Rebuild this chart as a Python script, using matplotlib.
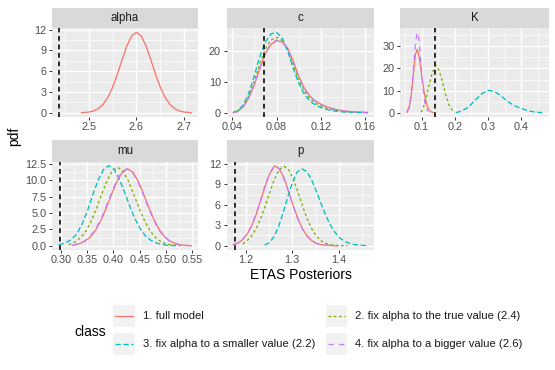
import matplotlib
matplotlib.use('Agg')
import matplotlib.pyplot as plt
from matplotlib.patches import Rectangle
from matplotlib.ticker import MultipleLocator, FormatStrFormatter

plt.rcParams['font.family'] = ['Liberation Sans', 'DejaVu Sans']

# ---------------- data ----------------
class_names = ["1. full model",
               "2. fix alpha to the true value (2.4)",
               "3. fix alpha to a smaller value (2.2)",
               "4. fix alpha to a bigger value (2.6)"]
panel_names = ["alpha", "c", "K", "mu", "p"]

# dashed reference lines
alpha_true = 2.437
c_true = 0.0685
K_true = 0.14
mu_true = 0.299
p_true = 1.176

# alpha (only full model)
alpha_x = [2.485, 2.49, 2.50, 2.51, 2.52, 2.53, 2.54, 2.55, 2.56, 2.57, 2.58, 2.59, 2.60,
           2.61, 2.62, 2.63, 2.64, 2.65, 2.66, 2.67, 2.68, 2.69, 2.70, 2.71, 2.715]
alpha_full = [0.03, 0.05, 0.12, 0.28, 0.61, 1.22, 2.22, 3.68, 5.56, 7.67, 9.66, 11.08, 11.6,
              11.08, 9.66, 7.67, 5.56, 3.68, 2.22, 1.22, 0.61, 0.28, 0.12, 0.05, 0.03]

# c
c_x = [0.041, 0.045, 0.05, 0.055, 0.06, 0.065, 0.07, 0.075, 0.08, 0.085, 0.09, 0.095,
       0.10, 0.105, 0.11, 0.115, 0.12, 0.125, 0.13, 0.135, 0.14, 0.15, 0.162]
c_full = [0.05, 0.4, 2.0, 4.8, 9.0, 14.4, 19.2, 22.2, 23.4, 23.0, 21.0, 16.8,
          11.8, 8.0, 5.4, 3.8, 2.8, 2.0, 1.4, 0.95, 0.62, 0.27, 0.08]
c_fixtrue = [0.08, 0.5, 2.2, 5.4, 10.3, 16.0, 20.8, 23.6, 24.5, 23.5, 20.4, 15.6,
             10.7, 7.0, 4.6, 3.1, 2.2, 1.5, 1.0, 0.65, 0.42, 0.17, 0.05]
c_small = [0.1, 0.7, 2.5, 6.3, 12.0, 18.3, 23.0, 25.6, 26.1, 24.3, 20.0, 14.5,
           9.6, 6.0, 3.8, 2.5, 1.7, 1.1, 0.7, 0.45, 0.28, 0.1, 0.03]
c_big = [0.05, 0.4, 1.9, 4.8, 9.1, 14.6, 19.4, 22.4, 23.6, 23.1, 20.9, 16.6,
         11.6, 7.8, 5.3, 3.7, 2.7, 1.95, 1.35, 0.9, 0.6, 0.26, 0.07]

# K
K_full_x = [0.056, 0.062, 0.067, 0.072, 0.077, 0.082, 0.087, 0.092, 0.097, 0.102, 0.107,
            0.112, 0.117, 0.122, 0.128, 0.135]
K_full_y = [0.3, 2.0, 5.8, 12.0, 20.0, 26.5, 28.5, 26.0, 21.0, 15.0, 10.0,
            5.8, 3.0, 1.4, 0.5, 0.1]
K_fixtrue_x = [0.098, 0.102, 0.112, 0.122, 0.132, 0.142, 0.152, 0.162, 0.172, 0.182, 0.192, 0.200]
K_fixtrue_y = [0.4, 1.0, 5.5, 12.0, 18.0, 21.3, 19.3, 14.5, 8.5, 3.8, 1.2, 0.3]
K_small_x = [0.203, 0.22, 0.24, 0.26, 0.28, 0.30, 0.32, 0.34, 0.36, 0.38, 0.40, 0.42, 0.44, 0.463]
K_small_y = [0.1, 0.8, 2.5, 5.5, 8.5, 10.2, 9.6, 7.5, 5.0, 3.2, 2.0, 1.0, 0.4, 0.1]
K_big_x = [0.0555, 0.0625, 0.0675, 0.0725, 0.0775, 0.0825, 0.0875, 0.0925, 0.0975,
           0.1025, 0.1075, 0.1125, 0.119]
K_big_y = [0.4, 2.7, 6.9, 14.3, 23.9, 32.7, 36.2, 32.7, 23.9, 14.3, 6.9, 2.7, 0.7]

# mu
mu_full_x = [0.322, 0.327, 0.337, 0.347, 0.357, 0.367, 0.377, 0.387, 0.397, 0.407, 0.417, 0.427,
             0.437, 0.447, 0.457, 0.467, 0.477, 0.487, 0.497, 0.507, 0.517, 0.527, 0.537, 0.548]
mu_full_y = [0.1, 0.16, 0.36, 0.75, 1.42, 2.49, 3.99, 5.89, 7.94, 9.85, 11.21, 11.7,
             11.21, 9.85, 7.94, 5.89, 3.99, 2.49, 1.42, 0.75, 0.36, 0.16, 0.064, 0.02]
mu_fixtrue_x = [0.315, 0.318, 0.328, 0.338, 0.348, 0.358, 0.368, 0.378, 0.388, 0.398, 0.408, 0.418,
                0.428, 0.438, 0.448, 0.458, 0.468, 0.478, 0.488, 0.498, 0.508, 0.518, 0.528]
mu_fixtrue_y = [0.2, 0.29, 0.63, 1.26, 2.29, 3.79, 5.73, 7.91, 9.94, 11.41, 11.95, 11.41,
                9.94, 7.95, 5.9, 4.0, 2.5, 1.4, 0.75, 0.36, 0.16, 0.07, 0.03]
mu_small_x = [0.296, 0.301, 0.311, 0.321, 0.331, 0.341, 0.351, 0.361, 0.371, 0.381, 0.391, 0.401,
              0.411, 0.421, 0.431, 0.441, 0.451, 0.461, 0.471, 0.481, 0.491, 0.501, 0.511, 0.521]
mu_small_y = [0.15, 0.25, 0.55, 1.0, 1.9, 3.4, 5.4, 7.8, 10.0, 11.6, 12.2, 11.65,
              10.2, 8.2, 6.05, 4.1, 2.6, 1.5, 0.85, 0.45, 0.22, 0.1, 0.05, 0.02]
mu_big_x = [0.322, 0.326, 0.336, 0.346, 0.356, 0.366, 0.376, 0.386, 0.396, 0.406, 0.416, 0.426,
            0.436, 0.446, 0.456, 0.466, 0.476, 0.486, 0.496, 0.506, 0.516, 0.526, 0.536, 0.547]
mu_big_y = [0.12, 0.17, 0.37, 0.77, 1.45, 2.53, 4.04, 5.95, 8.0, 9.9, 11.26, 11.75,
            11.24, 9.86, 7.93, 5.86, 3.96, 2.46, 1.4, 0.74, 0.35, 0.15, 0.06, 0.02]

# p
p_full_x = [1.173, 1.182, 1.192, 1.202, 1.212, 1.222, 1.232, 1.242, 1.252, 1.262, 1.272, 1.282,
            1.292, 1.302, 1.312, 1.322, 1.332, 1.342, 1.352, 1.362, 1.372, 1.382, 1.398]
p_full_y = [0.15, 0.35, 0.8, 1.6, 2.8, 4.5, 6.6, 8.8, 10.6, 11.7, 11.3, 9.95,
            8.0, 5.9, 3.98, 2.47, 1.41, 0.74, 0.35, 0.16, 0.07, 0.03, 0.01]
p_fixtrue_x = [1.194, 1.202, 1.212, 1.222, 1.232, 1.242, 1.252, 1.262, 1.272, 1.282, 1.292, 1.302,
               1.312, 1.322, 1.332, 1.342, 1.352, 1.362, 1.372, 1.382, 1.392, 1.402, 1.419]
p_fixtrue_y = [0.25, 0.7, 1.40, 2.46, 3.95, 5.83, 7.9, 9.8, 11.16, 11.65, 11.16, 9.8,
               7.9, 5.83, 3.95, 2.46, 1.40, 0.73, 0.35, 0.154, 0.062, 0.023, 0.005]
p_small_x = [1.2406, 1.2506, 1.2606, 1.2706, 1.2806, 1.2906, 1.3006, 1.3106, 1.3206, 1.3306,
             1.3406, 1.3506, 1.3606, 1.3706, 1.3806, 1.3906, 1.4006, 1.4106, 1.4206, 1.4306,
             1.4406, 1.4506, 1.462]
p_small_y = [0.1, 0.45, 1.3, 2.8, 4.9, 7.2, 9.3, 10.8, 11.25, 10.9, 9.8, 8.2,
             6.4, 4.7, 3.2, 2.05, 1.25, 0.72, 0.4, 0.21, 0.1, 0.05, 0.02]
p_big_x = [1.174, 1.182, 1.192, 1.202, 1.212, 1.222, 1.232, 1.242, 1.252, 1.262, 1.272, 1.282,
           1.292, 1.302, 1.312, 1.322, 1.332, 1.342, 1.352, 1.362, 1.372, 1.382, 1.396]
p_big_y = [0.17, 0.37, 0.84, 1.66, 2.88, 4.6, 6.7, 8.9, 10.7, 11.72, 11.25, 9.85,
           7.9, 5.8, 3.9, 2.42, 1.38, 0.72, 0.34, 0.15, 0.07, 0.03, 0.01]

# ---------------- styling ----------------
W, H = 555, 370
colors = ['#F8766D', '#7CAE00', '#00BFC4', '#C77CFF']
dash_styles = [None, (2, 2), (4, 2), (4, 4)]
LW = 0.95
TICK_FS = 7.8
STRIP_FS = 8.3
LEG_FS = 8.1
TITLE_FS = 10

fig = plt.figure(figsize=(W / 100, H / 100), dpi=100)


def rect(l, t, r, b):
    return [l / W, 1 - b / H, (r - l) / W, (b - t) / H]


panels = [
    dict(name="alpha", box=(52, 28.3, 198, 116.7), strip=(7.5, 28.3),
         curves=[(0, alpha_x, alpha_full)], vline=alpha_true,
         xmaj=0.1, ymaj=3, xfmt='%.1f', yfmt='%d'),
    dict(name="c", box=(226.5, 28.3, 374.3, 116.7), strip=(7.5, 28.3),
         curves=[(0, c_x, c_full), (1, c_x, c_fixtrue), (2, c_x, c_small), (3, c_x, c_big)],
         vline=c_true, xmaj=0.04, ymaj=10, xfmt='%.2f', yfmt='%d'),
    dict(name="K", box=(400, 28.3, 549, 116.7), strip=(7.5, 28.3),
         curves=[(0, K_full_x, K_full_y), (1, K_fixtrue_x, K_fixtrue_y),
                 (2, K_small_x, K_small_y), (3, K_big_x, K_big_y)],
         vline=K_true, xmaj=0.1, ymaj=10, xfmt='%.1f', yfmt='%d'),
    dict(name="mu", box=(52, 161.7, 198, 249.7), strip=(140, 161.7),
         curves=[(0, mu_full_x, mu_full_y), (1, mu_fixtrue_x, mu_fixtrue_y),
                 (2, mu_small_x, mu_small_y), (3, mu_big_x, mu_big_y)],
         vline=mu_true, xmaj=0.05, ymaj=2.5, xfmt='%.2f', yfmt='%.1f'),
    dict(name="p", box=(226.5, 161.7, 374.3, 249.7), strip=(140, 161.7),
         curves=[(0, p_full_x, p_full_y), (1, p_fixtrue_x, p_fixtrue_y),
                 (2, p_small_x, p_small_y), (3, p_big_x, p_big_y)],
         vline=p_true, xmaj=0.1, ymaj=3, xfmt='%.1f', yfmt='%d'),
]

for pnl in panels:
    l, t, r, b = pnl["box"]
    ax = fig.add_axes(rect(l, t, r, b))
    ax.set_facecolor('#EBEBEB')
    allx, ally = [pnl["vline"]], []
    for ci, xs, ys in pnl["curves"]:
        kw = dict(color=colors[ci], lw=LW, zorder=3 + ci)
        if dash_styles[ci] is not None:
            kw['dashes'] = dash_styles[ci]
        ax.plot(xs, ys, **kw)
        allx += list(xs)
        ally += list(ys)
    ax.axvline(pnl["vline"], color='black', lw=1.15, dashes=(3, 2.3), zorder=10)
    x0, x1 = min(allx), max(allx)
    y0, y1 = min(ally), max(ally)
    dx, dy = (x1 - x0) * 0.05, (y1 - y0) * 0.05
    ax.set_xlim(x0 - dx, x1 + dx)
    ax.set_ylim(y0 - dy, y1 + dy)
    ax.xaxis.set_major_locator(MultipleLocator(pnl["xmaj"]))
    ax.xaxis.set_minor_locator(MultipleLocator(pnl["xmaj"] / 2))
    ax.yaxis.set_major_locator(MultipleLocator(pnl["ymaj"]))
    ax.yaxis.set_minor_locator(MultipleLocator(pnl["ymaj"] / 2))
    ax.xaxis.set_major_formatter(FormatStrFormatter(pnl["xfmt"]))
    ax.yaxis.set_major_formatter(FormatStrFormatter(pnl["yfmt"]))
    ax.grid(which='major', color='white', lw=1.0)
    ax.grid(which='minor', color='white', lw=0.5)
    ax.set_axisbelow(True)
    for s in ax.spines.values():
        s.set_visible(False)
    ax.tick_params(which='major', length=2.5, width=0.7, color='#333333',
                   labelsize=TICK_FS, labelcolor='#4D4D4D', pad=1.5)
    ax.tick_params(which='minor', length=0)
    # strip
    st, sb = pnl["strip"]
    sax = fig.add_axes(rect(l, st, r, sb))
    sax.set_facecolor('#D9D9D9')
    sax.set_xticks([])
    sax.set_yticks([])
    for s in sax.spines.values():
        s.set_visible(False)
    sax.text(0.5, 0.5, pnl["name"], ha='center', va='center', fontsize=STRIP_FS,
             color='#1A1A1A', transform=sax.transAxes)

# overlay for titles and legend (pixel coordinates)
lax = fig.add_axes([0, 0, 1, 1])
lax.set_xlim(0, W)
lax.set_ylim(H, 0)
lax.axis('off')

lax.text(300.5, 275, "ETAS Posteriors", ha='center', va='center', fontsize=TITLE_FS)
lax.text(14, 136.7, "pdf", ha='center', va='center', rotation=90, fontsize=TITLE_FS)

lax.text(74, 331.5, "class", ha='left', va='center', fontsize=TITLE_FS)
key_pos = [(113.3, 305.0), (325.7, 305.0), (113.3, 333.3), (325.7, 333.3)]
KS = 21.7
for ci, (kx, ky) in enumerate(key_pos):
    lax.add_patch(Rectangle((kx, ky), KS, KS, facecolor='#F2F2F2', edgecolor='none'))
    kw = dict(color=colors[ci], lw=LW)
    if dash_styles[ci] is not None:
        kw['dashes'] = dash_styles[ci]
    lax.plot([kx + 2, kx + KS - 2], [ky + KS / 2, ky + KS / 2], **kw)
    lax.text(kx + 29.4, ky + KS / 2, class_names[ci], ha='left', va='center',
             fontsize=LEG_FS, color='#1A1A1A')

fig.savefig('out.png', dpi=100)
